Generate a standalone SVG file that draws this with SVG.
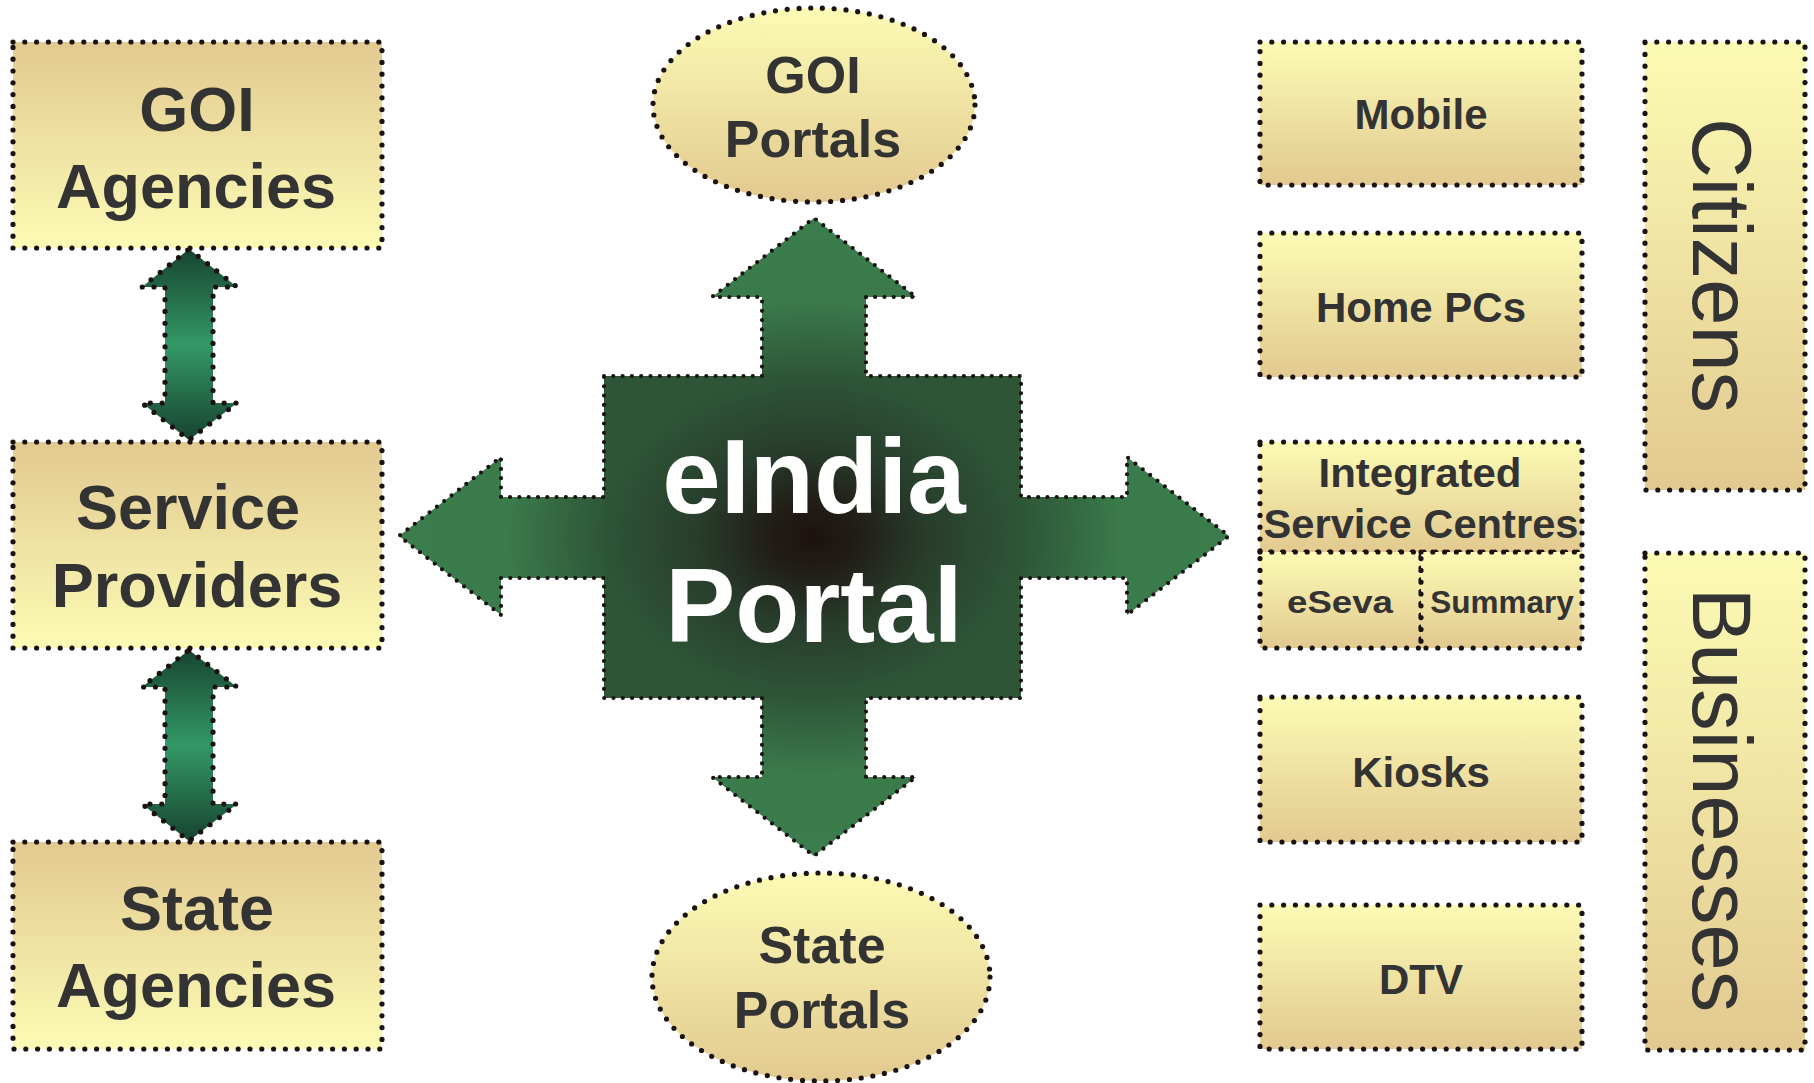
<svg xmlns="http://www.w3.org/2000/svg" width="1814" height="1083" viewBox="0 0 1814 1083">
<defs>
<linearGradient id="tanUp" x1="0" y1="0" x2="0" y2="1">
<stop offset="0" stop-color="#e2c990"/>
<stop offset="1" stop-color="#fcfbb5"/>
</linearGradient>
<linearGradient id="tanDown" x1="0" y1="0" x2="0" y2="1">
<stop offset="0" stop-color="#fcfbb5"/>
<stop offset="1" stop-color="#e2c990"/>
</linearGradient>
<linearGradient id="dbl" x1="0" y1="0" x2="0" y2="1">
<stop offset="0" stop-color="#174430"/>
<stop offset="0.5" stop-color="#339866"/>
<stop offset="1" stop-color="#174430"/>
</linearGradient>
<radialGradient id="crossG" cx="0.5" cy="0.5" r="0.5">
<stop offset="0" stop-color="#1c1210"/>
<stop offset="0.5" stop-color="#2e5536"/>
<stop offset="0.74" stop-color="#3a7a4b"/>
<stop offset="1" stop-color="#3b7d4c"/>
</radialGradient>
<radialGradient id="squareG" cx="0.5" cy="0.5" r="0.5">
<stop offset="0" stop-color="#1c1210"/>
<stop offset="0.2" stop-color="#211c16"/>
<stop offset="0.55" stop-color="#283d2c"/>
<stop offset="1" stop-color="#2e5536"/>
</radialGradient>
</defs>
<style>
.dot{stroke:#1b1212;stroke-width:5.2;stroke-dasharray:0 11.8;stroke-linecap:round;stroke-linejoin:round}
.dotS{stroke:#1b1212;stroke-width:4.2;stroke-dasharray:0 9.3;stroke-linecap:round;stroke-linejoin:round;fill:none}
.up{fill:url(#tanUp)}
.dn{fill:url(#tanDown)}
.t{font-family:"Liberation Sans",Arial,Helvetica,sans-serif;font-weight:bold;fill:#333333;text-anchor:middle}
.big{font-size:63px}
.mid{font-size:52px}
.sm{font-size:42px}
.rot{font-family:"Liberation Sans",Arial,Helvetica,sans-serif;font-size:83px;fill:#333333;text-anchor:middle}
.w{font-family:"Liberation Sans",Arial,Helvetica,sans-serif;font-weight:bold;font-size:105px;fill:#ffffff;text-anchor:middle}
</style>
<rect width="1814" height="1083" fill="#ffffff"/>

<g id="connectors">
<path class="dot" fill="url(#dbl)" d="M189 249 L237 287 L213 287 L213 403 L237 403 L189 440 L142 403 L165 403 L165 287 L142 287 Z"/>
<path class="dot" fill="url(#dbl)" d="M189 650 L237 687 L213 687 L213 804 L237 804 L189 841 L142 804 L165 804 L165 687 L142 687 Z"/>
</g>

<g id="goi-agencies">
<rect class="dot up" x="13" y="42" width="369" height="206"/>
<text class="t big" x="197" y="131">GOI</text>
<text class="t big" x="196" y="208">Agencies</text>
</g>

<g id="service-providers">
<rect class="dot up" x="13" y="442" width="369" height="206"/>
<text class="t big" x="188" y="529">Service</text>
<text class="t big" x="197" y="607">Providers</text>
</g>

<g id="state-agencies">
<rect class="dot up" x="13" y="842" width="369" height="207"/>
<text class="t big" x="197" y="930">State</text>
<text class="t big" x="196" y="1007">Agencies</text>
</g>

<g id="goi-portals">
<ellipse class="dot dn" cx="814" cy="105" rx="161" ry="97"/>
<text class="t mid" x="813" y="93">GOI</text>
<text class="t mid" x="813" y="157">Portals</text>
</g>

<g id="state-portals">
<ellipse class="dot dn" cx="821" cy="977" rx="169" ry="104"/>
<text class="t mid" x="822" y="963">State</text>
<text class="t mid" x="822" y="1028">Portals</text>
</g>

<g id="eindia-portal">
<path fill="url(#crossG)" d="M604 376 L762 376 L762 297 L712 297 L814 218 L916 297 L866 297 L866 376 L1021 376 L1021 497 L1127 497 L1127 457 L1229 536 L1127 615 L1127 578 L1021 578 L1021 698 L866 698 L866 777 L916 777 L814 856 L712 777 L762 777 L762 698 L604 698 L604 578 L501 578 L501 615 L399 536 L501 457 L501 497 L604 497 Z"/>
<rect x="604" y="376" width="417" height="322" fill="url(#squareG)"/>
<path class="dotS" d="M604 376 L762 376 L762 297 L712 297 L814 218 L916 297 L866 297 L866 376 L1021 376 L1021 497 L1127 497 L1127 457 L1229 536 L1127 615 L1127 578 L1021 578 L1021 698 L866 698 L866 777 L916 777 L814 856 L712 777 L762 777 L762 698 L604 698 L604 578 L501 578 L501 615 L399 536 L501 457 L501 497 L604 497 Z"/>
<text class="w" x="814" y="513">eIndia</text>
<text class="w" x="814" y="642">Portal</text>
</g>

<g id="mobile">
<rect class="dot dn" x="1260" y="42" width="322" height="143"/>
<text class="t sm" x="1421" y="129">Mobile</text>
</g>

<g id="home-pcs">
<rect class="dot dn" x="1260" y="233" width="322" height="144"/>
<text class="t sm" x="1421" y="322">Home PCs</text>
</g>

<g id="integrated-service-centres">
<rect class="dot dn" x="1260" y="442" width="322" height="110"/>
<text class="t" style="font-size:40px" x="1420" y="487" textLength="203" lengthAdjust="spacingAndGlyphs">Integrated</text>
<text class="t" style="font-size:40px" x="1421" y="538" textLength="315" lengthAdjust="spacingAndGlyphs">Service Centres</text>
</g>

<g id="eseva">
<rect class="dot dn" x="1260" y="552" width="161" height="96"/>
<text class="t" style="font-size:32px" x="1340" y="613" textLength="106" lengthAdjust="spacingAndGlyphs">eSeva</text>
</g>

<g id="summary">
<rect class="dot dn" x="1421" y="552" width="161" height="96"/>
<text class="t" style="font-size:31.5px" x="1502" y="613">Summary</text>
</g>

<g id="kiosks">
<rect class="dot dn" x="1260" y="697" width="322" height="145"/>
<text class="t sm" x="1421" y="787">Kiosks</text>
</g>

<g id="dtv">
<rect class="dot dn" x="1260" y="905" width="322" height="144"/>
<text class="t sm" x="1421" y="994">DTV</text>
</g>

<g id="citizens">
<rect class="dot dn" x="1645" y="42" width="160" height="448"/>
<text class="rot" transform="translate(1693 265.5) rotate(90)">Citizens</text>
</g>

<g id="businesses">
<rect class="dot dn" x="1645" y="553" width="160" height="497"/>
<text class="rot" transform="translate(1693 800) rotate(90)">Businesses</text>
</g>
</svg>
